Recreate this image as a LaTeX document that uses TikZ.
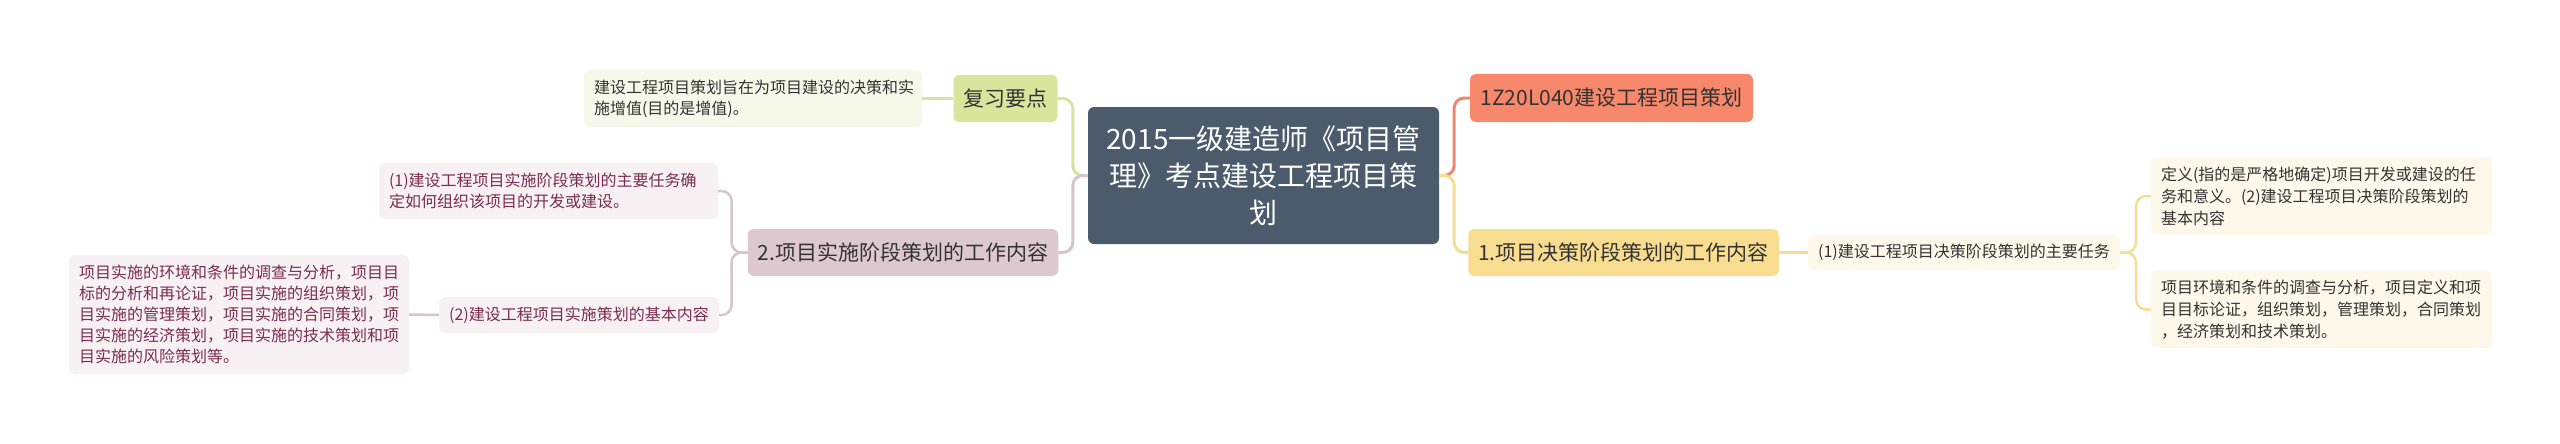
\documentclass[tikz,border=0pt]{standalone}
\usepackage{fontspec}
\setmainfont{Noto Sans CJK SC}
\definecolor{slate}{RGB}{75,91,108}
\definecolor{fuxifill}{RGB}{217,229,156}
\definecolor{greenline}{RGB}{216,227,162}
\definecolor{greenleaf}{RGB}{246,249,234}
\definecolor{salmonfill}{RGB}{247,136,107}
\definecolor{salmonline}{RGB}{240,134,108}
\definecolor{yellowfill}{RGB}{248,221,145}
\definecolor{yellowline}{RGB}{245,221,150}
\definecolor{cream}{RGB}{253,248,233}
\definecolor{mauve}{RGB}{221,200,207}
\definecolor{pinkline}{RGB}{215,196,203}
\definecolor{pinkleaf}{RGB}{247,241,243}
\definecolor{plum}{RGB}{122,45,80}
\definecolor{txtdark}{RGB}{51,51,51}
\begin{document}
\begin{tikzpicture}[x=1pt,y=-1pt,
  base/.style={rounded corners=6pt, inner xsep=10pt, inner ysep=0pt, text=txtdark},
  fsmall/.style={font=\fontsize{16}{21}\selectfont},
  fsmallb/.style={font=\fontsize{16}{22}\selectfont},
  fmid/.style={font=\fontsize{21}{26}\selectfont},
  conn/.style={line width=2.5pt, rounded corners=10pt},
  mainconn/.style={line width=3pt, rounded corners=10pt}]
\useasboundingbox (0,0) rectangle (2560,444);
\fill[white] (0,0) rectangle (2560,444);

% central
\node[base, fill=slate, text=white, font=\fontsize{28}{37}\selectfont, align=center,
  minimum width=351pt, minimum height=137pt] (central) at (1263.5,175.5)
  {2015一级建造师《项目管\\理》考点建设工程项目策\\划};

% left upper branch
\node[base, fill=fuxifill, fmid, minimum width=103pt, minimum height=47pt] (fuxi) at (1005.5,98.5) {复习要点};
\node[base, fill=greenleaf, fsmall, text width=318pt, align=left, minimum height=57pt] (leafA) at (753,98.5)
  {建设工程项目策划旨在为项目建设的决策和实\\施增值(目的是增值)。};

% right upper branch
\node[base, fill=salmonfill, fmid, minimum width=283pt, minimum height=48pt] (nz) at (1611.5,98) {1Z20L040建设工程项目策划};

% left lower branch
\node[base, fill=mauve, fmid, minimum width=308pt, minimum height=47pt] (nsh) at (903,252.5) {2.项目实施阶段策划的工作内容};
\node[base, fill=pinkleaf, text=plum, fsmall, text width=319pt, align=left, minimum height=56pt] (nss) at (548.5,191)
  {(1)建设工程项目实施阶段策划的主要任务确\\定如何组织该项目的开发或建设。};
\node[base, fill=pinkleaf, text=plum, fsmall, minimum width=278pt, minimum height=36pt] (njb) at (579,315)
  {(2)建设工程项目实施策划的基本内容};
\node[base, fill=pinkleaf, text=plum, fsmall, text width=320pt, align=left, minimum height=119pt] (nhx) at (239,314.5)
  {项目实施的环境和条件的调查与分析，项目目\\标的分析和再论证，项目实施的组织策划，项\\目实施的管理策划，项目实施的合同策划，项\\目实施的经济策划，项目实施的技术策划和项\\目实施的风险策划等。};

% right lower branch
\node[base, fill=yellowfill, fmid, minimum width=307pt, minimum height=47pt] (njc) at (1623.5,252.5) {1.项目决策阶段策划的工作内容};
\node[base, fill=cream, fsmall, minimum width=310pt, minimum height=35pt] (nrw) at (1964,252.5) {(1)建设工程项目决策阶段策划的主要任务};
\node[base, fill=cream, fsmallb, text width=321pt, align=left, minimum height=78pt] (ndy) at (2321.5,196)
  {定义(指的是严格地确定)项目开发或建设的任\\务和意义。(2)建设工程项目决策阶段策划的\\基本内容};
\node[base, fill=cream, fsmallb, text width=321pt, align=left, minimum height=77pt] (nhj) at (2321.5,309.5)
  {项目环境和条件的调查与分析，项目定义和项\\目目标论证，组织策划，管理策划，合同策划\\，经济策划和技术策划。};

% connectors
\draw[mainconn, draw=greenline] (central.west) -- ++(-15,0) |- (fuxi.east);
\draw[mainconn, draw=pinkline] (central.west) -- ++(-15,0) |- (nsh.east);
\draw[mainconn, draw=salmonline] (central.east) -- ++(15,0) |- (nz.west);
\draw[mainconn, draw=yellowline] (central.east) -- ++(15,0) |- (njc.west);
\draw[conn, draw=greenline] (fuxi.west) -- (leafA.east);
\draw[conn, draw=pinkline] (nsh.west) -- ++(-16,0) |- (nss.east);
\draw[conn, draw=pinkline] (nsh.west) -- ++(-16,0) |- (njb.east);
\draw[conn, draw=pinkline] (njb.west) -- (nhx.east);
\draw[conn, draw=yellowline] (njc.east) -- (nrw.west);
\draw[conn, draw=yellowline] (nrw.east) -- ++(16,0) |- (ndy.west);
\draw[conn, draw=yellowline] (nrw.east) -- ++(16,0) |- (nhj.west);
\end{tikzpicture}
\end{document}
